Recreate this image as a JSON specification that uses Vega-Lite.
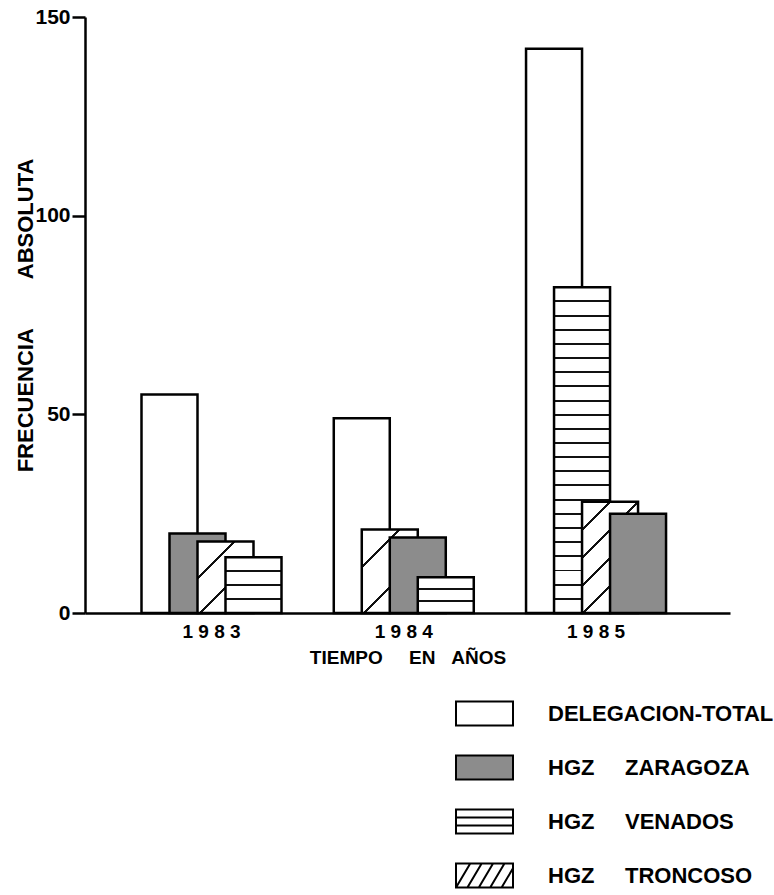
{
  "$schema": "https://vega.github.io/schema/vega-lite/v6.json",
  "width": 645,
  "height": 596,
  "autosize": {"type": "none"},
  "padding": {"left": 85, "top": 17, "right": 44, "bottom": 282},
  "background": "white",
  "config": {"view": {"stroke": null}, "font": "Liberation Sans"},
  "data": {
    "values": [
      {"year": 1983, "series": "DELEGACION-TOTAL", "value": 55},
      {"year": 1983, "series": "HGZ ZARAGOZA", "value": 20},
      {"year": 1983, "series": "HGZ TRONCOSO", "value": 18},
      {"year": 1983, "series": "HGZ VENADOS", "value": 14},
      {"year": 1984, "series": "DELEGACION-TOTAL", "value": 49},
      {"year": 1984, "series": "HGZ TRONCOSO", "value": 21},
      {"year": 1984, "series": "HGZ ZARAGOZA", "value": 19},
      {"year": 1984, "series": "HGZ VENADOS", "value": 9},
      {"year": 1985, "series": "DELEGACION-TOTAL", "value": 142},
      {"year": 1985, "series": "HGZ VENADOS", "value": 82},
      {"year": 1985, "series": "HGZ TRONCOSO", "value": 28},
      {"year": 1985, "series": "HGZ ZARAGOZA", "value": 25}
    ]
  },
  "transform": [
    {"window": [{"op": "row_number", "as": "rank"}], "groupby": ["year"], "sort": [{"field": "value", "order": "descending"}]}
  ],
  "encoding": {
    "x": {
      "field": "year", "type": "ordinal",
      "scale": {"paddingInner": 0.4174, "paddingOuter": 0.386, "align": 0.475},
      "axis": {
        "title": "TIEMPO\u00a0\u00a0\u00a0\u00a0\u00a0EN\u00a0\u00a0\u00a0AÑOS",
        "labelAngle": 0, "ticks": false,
        "domainColor": "black", "domainWidth": 2.5,
        "labelFont": "Liberation Sans", "labelFontSize": 19, "labelFontWeight": "bold", "labelColor": "black",
        "labelPadding": 9,
        "labelExpr": "join(split(datum.label, ''), ' ')",
        "titleFont": "Liberation Sans", "titleFontSize": 19, "titleFontWeight": "bold", "titleColor": "black",
        "titlePadding": 7
      }
    },
    "xOffset": {"field": "rank", "type": "ordinal", "scale": {"paddingInner": 0, "paddingOuter": 0, "range": [42, 154]}},
    "y": {
      "field": "value", "type": "quantitative",
      "scale": {"domain": [0, 150], "nice": false},
      "axis": {
        "title": "FRECUENCIA\u00a0\u00a0\u00a0\u00a0\u00a0\u00a0\u00a0\u00a0ABSOLUTA",
        "values": [0, 50, 100, 150], "grid": false,
        "domainColor": "black", "domainWidth": 2.5,
        "tickColor": "black", "tickWidth": 2.5, "tickSize": 13,
        "labelFont": "Liberation Sans", "labelFontSize": 21, "labelFontWeight": "bold", "labelColor": "black",
        "labelPadding": 2,
        "titleFont": "Liberation Sans", "titleFontSize": 22, "titleFontWeight": "bold", "titleColor": "black",
        "titlePadding": -3
      }
    }
  },
  "layer": [
    {
      "mark": {"type": "bar", "width": {"band": 2}, "stroke": "black", "strokeWidth": 2.5},
      "encoding": {
        "fill": {
          "condition": [
            {"test": "datum.series === 'HGZ ZARAGOZA'", "value": "#8c8c8c"},
            {"test": "datum.series === 'HGZ VENADOS' && datum.year === 1983", "value": {"gradient": "linear", "x1": 0, "y1": 0, "x2": 0, "y2": 1, "stops": [
              {"offset": 0, "color": "white"},
              {"offset": 0.232, "color": "white"}, {"offset": 0.232, "color": "#111"}, {"offset": 0.268, "color": "#111"}, {"offset": 0.268, "color": "white"},
              {"offset": 0.482, "color": "white"}, {"offset": 0.482, "color": "#111"}, {"offset": 0.518, "color": "#111"}, {"offset": 0.518, "color": "white"},
              {"offset": 0.732, "color": "white"}, {"offset": 0.732, "color": "#111"}, {"offset": 0.768, "color": "#111"}, {"offset": 0.768, "color": "white"},
              {"offset": 1, "color": "white"}]}},
            {"test": "datum.series === 'HGZ VENADOS' && datum.year === 1984", "value": {"gradient": "linear", "x1": 0, "y1": 0, "x2": 0, "y2": 1, "stops": [
              {"offset": 0, "color": "white"},
              {"offset": 0.305, "color": "white"}, {"offset": 0.305, "color": "#111"}, {"offset": 0.361, "color": "#111"}, {"offset": 0.361, "color": "white"},
              {"offset": 0.639, "color": "white"}, {"offset": 0.639, "color": "#111"}, {"offset": 0.695, "color": "#111"}, {"offset": 0.695, "color": "white"},
              {"offset": 1, "color": "white"}]}},
            {"test": "datum.series === 'HGZ VENADOS' && datum.year === 1985", "value": {"gradient": "linear", "x1": 0, "y1": 0, "x2": 0, "y2": 1, "stops": [
              {"offset": 0, "color": "white"},
              {"offset": 0.0405, "color": "white"}, {"offset": 0.0405, "color": "#111"}, {"offset": 0.0465, "color": "#111"}, {"offset": 0.0465, "color": "white"},
              {"offset": 0.0839, "color": "white"}, {"offset": 0.0839, "color": "#111"}, {"offset": 0.0900, "color": "#111"}, {"offset": 0.0900, "color": "white"},
              {"offset": 0.1274, "color": "white"}, {"offset": 0.1274, "color": "#111"}, {"offset": 0.1335, "color": "#111"}, {"offset": 0.1335, "color": "white"},
              {"offset": 0.1709, "color": "white"}, {"offset": 0.1709, "color": "#111"}, {"offset": 0.1770, "color": "#111"}, {"offset": 0.1770, "color": "white"},
              {"offset": 0.2144, "color": "white"}, {"offset": 0.2144, "color": "#111"}, {"offset": 0.2205, "color": "#111"}, {"offset": 0.2205, "color": "white"},
              {"offset": 0.2578, "color": "white"}, {"offset": 0.2578, "color": "#111"}, {"offset": 0.2639, "color": "#111"}, {"offset": 0.2639, "color": "white"},
              {"offset": 0.3013, "color": "white"}, {"offset": 0.3013, "color": "#111"}, {"offset": 0.3074, "color": "#111"}, {"offset": 0.3074, "color": "white"},
              {"offset": 0.3448, "color": "white"}, {"offset": 0.3448, "color": "#111"}, {"offset": 0.3509, "color": "#111"}, {"offset": 0.3509, "color": "white"},
              {"offset": 0.3883, "color": "white"}, {"offset": 0.3883, "color": "#111"}, {"offset": 0.3944, "color": "#111"}, {"offset": 0.3944, "color": "white"},
              {"offset": 0.4317, "color": "white"}, {"offset": 0.4317, "color": "#111"}, {"offset": 0.4378, "color": "#111"}, {"offset": 0.4378, "color": "white"},
              {"offset": 0.4752, "color": "white"}, {"offset": 0.4752, "color": "#111"}, {"offset": 0.4813, "color": "#111"}, {"offset": 0.4813, "color": "white"},
              {"offset": 0.5187, "color": "white"}, {"offset": 0.5187, "color": "#111"}, {"offset": 0.5248, "color": "#111"}, {"offset": 0.5248, "color": "white"},
              {"offset": 0.5622, "color": "white"}, {"offset": 0.5622, "color": "#111"}, {"offset": 0.5683, "color": "#111"}, {"offset": 0.5683, "color": "white"},
              {"offset": 0.6056, "color": "white"}, {"offset": 0.6056, "color": "#111"}, {"offset": 0.6117, "color": "#111"}, {"offset": 0.6117, "color": "white"},
              {"offset": 0.6491, "color": "white"}, {"offset": 0.6491, "color": "#111"}, {"offset": 0.6552, "color": "#111"}, {"offset": 0.6552, "color": "white"},
              {"offset": 0.6926, "color": "white"}, {"offset": 0.6926, "color": "#111"}, {"offset": 0.6987, "color": "#111"}, {"offset": 0.6987, "color": "white"},
              {"offset": 0.7361, "color": "white"}, {"offset": 0.7361, "color": "#111"}, {"offset": 0.7422, "color": "#111"}, {"offset": 0.7422, "color": "white"},
              {"offset": 0.7795, "color": "white"}, {"offset": 0.7795, "color": "#111"}, {"offset": 0.7856, "color": "#111"}, {"offset": 0.7856, "color": "white"},
              {"offset": 0.8230, "color": "white"}, {"offset": 0.8230, "color": "#111"}, {"offset": 0.8291, "color": "#111"}, {"offset": 0.8291, "color": "white"},
              {"offset": 0.8665, "color": "white"}, {"offset": 0.8665, "color": "#111"}, {"offset": 0.8726, "color": "#111"}, {"offset": 0.8726, "color": "white"},
              {"offset": 0.9100, "color": "white"}, {"offset": 0.9100, "color": "#111"}, {"offset": 0.9161, "color": "#111"}, {"offset": 0.9161, "color": "white"},
              {"offset": 0.9535, "color": "white"}, {"offset": 0.9535, "color": "#111"}, {"offset": 0.9596, "color": "#111"}, {"offset": 0.9596, "color": "white"},
              {"offset": 1, "color": "white"}]}},
            {"test": "datum.series === 'HGZ TRONCOSO' && datum.year === 1983", "value": {"gradient": "linear", "x1": 0, "y1": 0, "x2": 1, "y2": 1.2771, "stops": [
              {"offset": 0, "color": "white"},
              {"offset": 0.2409, "color": "white"}, {"offset": 0.2409, "color": "#111"}, {"offset": 0.2613, "color": "#111"}, {"offset": 0.2613, "color": "white"},
              {"offset": 0.4921, "color": "white"}, {"offset": 0.4921, "color": "#111"}, {"offset": 0.5124, "color": "#111"}, {"offset": 0.5124, "color": "white"},
              {"offset": 0.7432, "color": "white"}, {"offset": 0.7432, "color": "#111"}, {"offset": 0.7635, "color": "#111"}, {"offset": 0.7635, "color": "white"},
              {"offset": 1, "color": "white"}]}},
            {"test": "datum.series === 'HGZ TRONCOSO' && datum.year === 1984", "value": {"gradient": "linear", "x1": 0, "y1": 0, "x2": 1, "y2": 1.49, "stops": [
              {"offset": 0, "color": "white"},
              {"offset": 0.2024, "color": "white"}, {"offset": 0.2024, "color": "#111"}, {"offset": 0.2191, "color": "#111"}, {"offset": 0.2191, "color": "white"},
              {"offset": 0.4687, "color": "white"}, {"offset": 0.4687, "color": "#111"}, {"offset": 0.4853, "color": "#111"}, {"offset": 0.4853, "color": "white"},
              {"offset": 0.7349, "color": "white"}, {"offset": 0.7349, "color": "#111"}, {"offset": 0.7515, "color": "#111"}, {"offset": 0.7515, "color": "white"},
              {"offset": 1, "color": "white"}]}},
            {"test": "datum.series === 'HGZ TRONCOSO' && datum.year === 1985", "value": {"gradient": "linear", "x1": 0, "y1": 0, "x2": 1, "y2": 1.9866, "stops": [
              {"offset": 0, "color": "white"},
              {"offset": 0.0957, "color": "white"}, {"offset": 0.0957, "color": "#111"}, {"offset": 0.1065, "color": "#111"}, {"offset": 0.1065, "color": "white"},
              {"offset": 0.1968, "color": "white"}, {"offset": 0.1968, "color": "#111"}, {"offset": 0.2076, "color": "#111"}, {"offset": 0.2076, "color": "white"},
              {"offset": 0.2978, "color": "white"}, {"offset": 0.2978, "color": "#111"}, {"offset": 0.3087, "color": "#111"}, {"offset": 0.3087, "color": "white"},
              {"offset": 0.3989, "color": "white"}, {"offset": 0.3989, "color": "#111"}, {"offset": 0.4097, "color": "#111"}, {"offset": 0.4097, "color": "white"},
              {"offset": 0.5000, "color": "white"}, {"offset": 0.5000, "color": "#111"}, {"offset": 0.5108, "color": "#111"}, {"offset": 0.5108, "color": "white"},
              {"offset": 0.6011, "color": "white"}, {"offset": 0.6011, "color": "#111"}, {"offset": 0.6119, "color": "#111"}, {"offset": 0.6119, "color": "white"},
              {"offset": 1, "color": "white"}]}}
          ],
          "value": "white"
        }
      }
    },
    {
      "mark": {"type": "point", "filled": true, "opacity": 0},
      "encoding": {
        "fill": {
          "field": "series", "type": "nominal",
          "scale": {"domain": ["DELEGACION-TOTAL", "HGZ ZARAGOZA", "HGZ VENADOS", "HGZ TRONCOSO"], "range": ["white", "#8c8c8c", "white", "white"]},
          "legend": {
            "title": null, "orient": "none", "legendX": 370, "legendY": 667, "padding": 0,
            "rowPadding": 8, "labelOffset": 34, "labelLimit": 400,
            "labelFont": "Liberation Sans", "labelFontSize": 22, "labelFontWeight": "bold", "labelColor": "black",
            "labelExpr": "replace(datum.label, ' ', '\u00a0\u00a0\u00a0\u00a0\u00a0')",
            "symbolSize": 3249, "symbolStrokeColor": "black", "symbolStrokeWidth": 2, "symbolOpacity": 1,
            "encode": {"symbols": {"update": {"opacity": {"value": 1}, "stroke": {"value": "black"}, "strokeWidth": {"value": 2}}}}
          }
        },
        "shape": {
          "field": "series", "type": "nominal",
          "scale": {"domain": ["DELEGACION-TOTAL", "HGZ ZARAGOZA", "HGZ VENADOS", "HGZ TRONCOSO"], "range": [
            "M-1,-0.42H1V0.42H-1Z",
            "M-1,-0.42H1V0.42H-1Z",
            "M-1,-0.42H1V0.42H-1Z M-1,-0.14H1 M-1,0.14H1",
            "M-1,-0.42H1V0.42H-1Z M-1,0.42L-0.5,-0.42 M-0.6,0.42L-0.1,-0.42 M-0.2,0.42L0.3,-0.42 M0.2,0.42L0.7,-0.42 M0.6,0.42L1,-0.252"
          ]},
          "legend": {
            "title": null, "orient": "none", "legendX": 370, "legendY": 667, "padding": 0,
            "rowPadding": 8, "labelOffset": 34, "labelLimit": 400,
            "labelFont": "Liberation Sans", "labelFontSize": 22, "labelFontWeight": "bold", "labelColor": "black",
            "labelExpr": "replace(datum.label, ' ', '\u00a0\u00a0\u00a0\u00a0\u00a0')",
            "symbolSize": 3249, "symbolStrokeColor": "black", "symbolStrokeWidth": 2, "symbolOpacity": 1,
            "encode": {"symbols": {"update": {"opacity": {"value": 1}, "stroke": {"value": "black"}, "strokeWidth": {"value": 2}}}}
          }
        }
      }
    }
  ]
}
